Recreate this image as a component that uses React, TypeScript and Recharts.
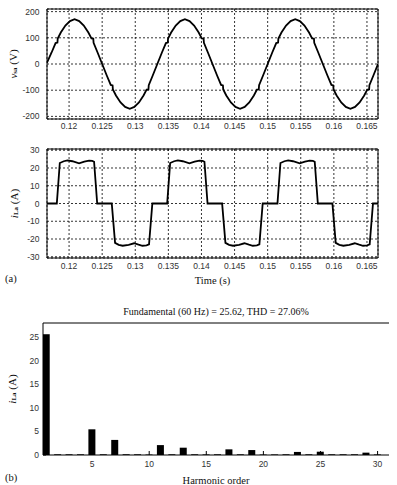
import React from 'react';
import { LineChart, Line, XAxis, YAxis, CartesianGrid, ReferenceArea, BarChart, Bar } from 'recharts';

// ---- (a) supply voltage v_sa ----
const vsaTime = [
  0.116667, 0.117361, 0.117963, 0.118241, 0.118287, 0.11875, 0.119444, 0.120139, 0.120833, 0.121528, 0.122222,
  0.122917, 0.12338, 0.123657, 0.123704, 0.124306, 0.125, 0.125694, 0.126296, 0.126574, 0.12662, 0.127083,
  0.127778, 0.128472, 0.129167, 0.129861, 0.130556, 0.13125, 0.131713, 0.131991, 0.132037, 0.132639,
  0.133333, 0.134028, 0.13463, 0.134907, 0.134954, 0.135417, 0.136111, 0.136806, 0.1375, 0.138194, 0.138889,
  0.139583, 0.140046, 0.140324, 0.14037, 0.140972, 0.141667, 0.142361, 0.142963, 0.143241, 0.143287, 0.14375,
  0.144444, 0.145139, 0.145833, 0.146528, 0.147222, 0.147917, 0.14838, 0.148657, 0.148704, 0.149306,
  0.15, 0.150694, 0.151296, 0.151574, 0.15162, 0.152083, 0.152778, 0.153472, 0.154167, 0.154861, 0.155556,
  0.15625, 0.156713, 0.156991, 0.157037, 0.157639, 0.158333, 0.159028, 0.15963, 0.159907, 0.159954, 0.160417,
  0.161111, 0.161806, 0.1625, 0.163194, 0.163889, 0.164583, 0.165046, 0.165324, 0.16537, 0.165972, 0.166667,
];
const vsaValue = [
  5, 44, 80, 82, 97, 120, 147, 164, 171, 164, 147,
  120, 98, 97, 81, 44, 0, -44, -80, -82, -97, -120,
  -147, -164, -171, -164, -147, -120, -98, -97, -81, -44,
  0, 44, 80, 82, 97, 120, 147, 164, 171, 164, 147,
  120, 98, 97, 81, 44, 0, -44, -80, -82, -97, -120,
  -147, -164, -171, -164, -147, -120, -98, -97, -81, -44,
  0, 44, 80, 82, 97, 120, 147, 164, 171, 164, 147,
  120, 98, 97, 81, 44, 0, -44, -80, -82, -97, -120,
  -147, -164, -171, -164, -147, -120, -98, -97, -81, -44, 0,
];

// ---- (a) load current i_La ----
const ilaTime = [
  0.116667, 0.11815, 0.1186, 0.1192, 0.11976, 0.1205, 0.12151, 0.1223, 0.12302, 0.1235, 0.12378, 0.12425,
  0.12645, 0.12695, 0.1275, 0.1281, 0.129, 0.12982, 0.1305, 0.13108, 0.1317, 0.13208, 0.13258,
  0.13482, 0.13527, 0.13587, 0.13643, 0.13717, 0.13818, 0.13897, 0.13969, 0.14017, 0.14045, 0.14092,
  0.14312, 0.14362, 0.14417, 0.14477, 0.14567, 0.14649, 0.14717, 0.14775, 0.14837, 0.14875, 0.14925,
  0.15148, 0.15193, 0.15253, 0.15309, 0.15383, 0.15484, 0.15563, 0.15635, 0.15683, 0.15711, 0.15758,
  0.15978, 0.16028, 0.16083, 0.16143, 0.16233, 0.16315, 0.16383, 0.16441, 0.16503, 0.16541, 0.16591, 0.166667,
];
const ilaValue = [
  0, 0, 22.8, 23.8, 24.3, 23.8, 22.6, 23.6, 24.2, 24.0, 23.5, 0,
  0, -22.2, -23.3, -23.8, -23.3, -22.4, -23.2, -23.8, -23.6, -23.0, 0,
  0, 22.8, 23.8, 24.3, 23.8, 22.6, 23.6, 24.2, 24.0, 23.5, 0,
  0, -22.2, -23.3, -23.8, -23.3, -22.4, -23.2, -23.8, -23.6, -23.0, 0,
  0, 22.8, 23.8, 24.3, 23.8, 22.6, 23.6, 24.2, 24.0, 23.5, 0,
  0, -22.2, -23.3, -23.8, -23.3, -22.4, -23.2, -23.8, -23.6, -23.0, 0, 0,
];

const timeTicks = [0.12, 0.125, 0.13, 0.135, 0.14, 0.145, 0.15, 0.155, 0.16, 0.165];
const voltTicks = [-200, -100, 0, 100, 200];
const currTicks = [-30, -20, -10, 0, 10, 20, 30];

// ---- (b) harmonic spectrum ----
const harmonicOrder = [1, 2, 3, 4, 5, 6, 7, 8, 9, 10, 11, 12, 13, 14, 15, 16, 17, 18, 19, 20, 21, 22, 23, 24, 25, 26, 27, 28, 29, 30];
const harmonicAmp = [
  25.62, 0.15, 0.15, 0.15, 5.45, 0.15, 3.2, 0.15, 0.15, 0.1,
  2.1, 0.15, 1.55, 0.15, 0.12, 0.15, 1.2, 0.15, 1.05, 0.1,
  0.12, 0.15, 0.65, 0.15, 0.7, 0.15, 0.15, 0.15, 0.5, 0.12,
];
const harmTicks = [5, 10, 15, 20, 25, 30];
const ampTicks = [0, 5, 10, 15, 20, 25];
const spectrumTitle = 'Fundamental (60 Hz) = 25.62, THD = 27.06%';

const vsaData = vsaTime.map((t, i) => ({ t, v: vsaValue[i] }));
const ilaData = ilaTime.map((t, i) => ({ t, i: ilaValue[i] }));
const specData = harmonicOrder.map((h, i) => ({ h, amp: harmonicAmp[i] }));

const T_MIN = 0.116667;
const T_MAX = 0.166667;

const tickStyle = { fontSize: 8.5, fill: '#333', fontFamily: 'Liberation Sans' };
const serif = 'Liberation Serif';

function AxisTitle(props: any) {
  const { viewBox, sym, sub, unit, dx } = props;
  const cx = (viewBox?.x ?? 0) + dx;
  const cy = (viewBox?.y ?? 0) + (viewBox?.height ?? 0) / 2;
  return (
    <text
      x={cx}
      y={cy}
      transform={`rotate(-90 ${cx} ${cy})`}
      textAnchor="middle"
      dominantBaseline="central"
      fontFamily={serif}
      fontSize={11}
      fill="#111"
    >
      <tspan fontStyle="italic">{sym}</tspan>
      <tspan fontSize={7} fontWeight="bold" dy={2}>{sub}</tspan>
      <tspan dy={-2}>{' ' + unit}</tspan>
    </text>
  );
}

export default function App() {
  return (
    <div style={{ position: 'absolute', left: 0, top: 0, width: 397, height: 485, background: '#fff', fontFamily: serif }}>
      <div style={{ position: 'absolute', left: 0, top: 0 }}>
        <LineChart width={397} height={140} data={vsaData} margin={{ top: 9, right: 19, bottom: 0, left: 0 }}>
          <CartesianGrid stroke="#000" strokeDasharray="2 2" strokeWidth={0.8} />
          <XAxis dataKey="t" type="number" domain={[T_MIN, T_MAX]} ticks={timeTicks} allowDataOverflow height={21}
            axisLine={false} tickLine={false} tickSize={0} tickMargin={4} tick={tickStyle} interval={0} />
          <YAxis type="number" domain={[-210, 210]} ticks={voltTicks} allowDataOverflow width={47}
            axisLine={false} tickLine={false} tickSize={0} tickMargin={7.5} tick={tickStyle} interval={0}
            label={{ content: (p: any) => <AxisTitle viewBox={p.viewBox} sym="v" sub="sa" unit="(V)" dx={13} /> }} />
          <ReferenceArea x1={T_MIN} x2={T_MAX} y1={-210} y2={210} fill="none" fillOpacity={0} stroke="#000" strokeWidth={1} ifOverflow="visible" />
          <Line dataKey="v" type="linear" stroke="#000" strokeWidth={1.8} dot={false} activeDot={false} isAnimationActive={false} />
        </LineChart>
      </div>
      <div style={{ position: 'absolute', left: 0, top: 140 }}>
        <LineChart width={397} height={148} data={ilaData} margin={{ top: 9, right: 19, bottom: 0, left: 0 }}>
          <CartesianGrid stroke="#000" strokeDasharray="2 2" strokeWidth={0.8} />
          <XAxis dataKey="t" type="number" domain={[T_MIN, T_MAX]} ticks={timeTicks} allowDataOverflow height={30}
            axisLine={false} tickLine={false} tickSize={0} tickMargin={5} tick={tickStyle} interval={0}
            label={{ value: 'Time (s)', position: 'insideBottom', offset: 4, fontFamily: serif, fontSize: 10.5, fill: '#111' }} />
          <YAxis type="number" domain={[-30.7, 30.7]} ticks={currTicks} allowDataOverflow width={47}
            axisLine={false} tickLine={false} tickSize={0} tickMargin={7.5} tick={tickStyle} interval={0}
            label={{ content: (p: any) => <AxisTitle viewBox={p.viewBox} sym="i" sub="La" unit="(A)" dx={14} /> }} />
          <ReferenceArea x1={T_MIN} x2={T_MAX} y1={-30.7} y2={30.7} fill="none" fillOpacity={0} stroke="#000" strokeWidth={1} ifOverflow="visible" />
          <Line dataKey="i" type="linear" stroke="#000" strokeWidth={1.8} dot={false} activeDot={false} isAnimationActive={false} />
        </LineChart>
      </div>
      <div style={{ position: 'absolute', left: 5, top: 273, fontFamily: serif, fontSize: 10.5, color: '#111' }}>(a)</div>
      <div style={{ position: 'absolute', left: 0, top: 295 }}>
        <BarChart width={397} height={190} data={specData} margin={{ top: 27, right: 7, bottom: 0, left: 0 }}>
          <XAxis dataKey="h" type="number" domain={[0.7, 31]} ticks={harmTicks} allowDataOverflow height={30}
            axisLine={{ stroke: '#000' }} tickLine={{ stroke: '#000' }} tickSize={-4} tickMargin={10} tick={tickStyle} interval={0}
            label={{ value: 'Harmonic order', position: 'insideBottom', offset: 1, fontFamily: serif, fontSize: 10.5, fill: '#111' }} />
          <XAxis xAxisId="top" orientation="top" dataKey="h" type="number" domain={[0.7, 31]} ticks={harmTicks} allowDataOverflow height={1}
            axisLine={{ stroke: '#000' }} tickLine={{ stroke: '#000' }} tickSize={-4} tick={false} interval={0}
            label={{ value: spectrumTitle, position: 'top', offset: 7, fontFamily: serif, fontSize: 10, fill: '#111' }} />
          <YAxis type="number" domain={[0, 28]} ticks={ampTicks} allowDataOverflow width={43}
            axisLine={{ stroke: '#000' }} tickLine={{ stroke: '#000' }} tickSize={-3} tickMargin={7} tick={tickStyle} interval={0}
            label={{ content: (p: any) => <AxisTitle viewBox={p.viewBox} sym="i" sub="La" unit="(A)" dx={12} /> }} />
          <YAxis yAxisId="r" orientation="right" type="number" domain={[0, 28]} ticks={ampTicks} allowDataOverflow width={1}
            axisLine={false} tickLine={{ stroke: '#000' }} tickSize={-3} tick={false} interval={0} />
          <Bar dataKey="amp" fill="#000" barSize={7} isAnimationActive={false} />
        </BarChart>
      </div>
      <div style={{ position: 'absolute', left: 5, top: 472, fontFamily: serif, fontSize: 10.5, color: '#111' }}>(b)</div>
    </div>
  );
}
